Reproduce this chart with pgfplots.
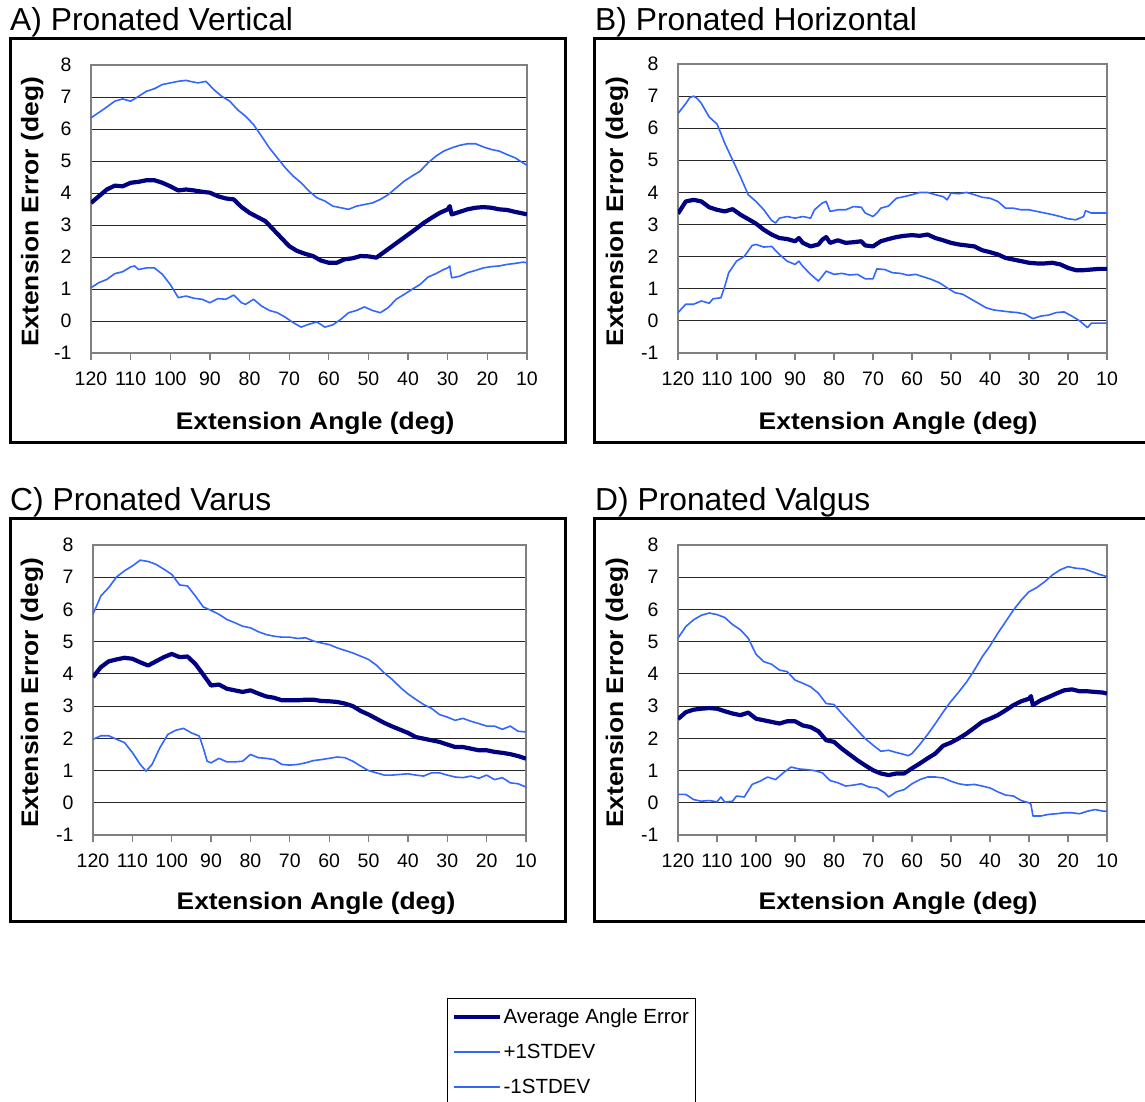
\documentclass[border=0pt]{standalone}
\usepackage{fontspec}
\setmainfont{Liberation Sans}
\newfontfamily\labfont{Liberation Sans}[FakeStretch=1.1]
\usepackage{pgfplots}
\pgfplotsset{compat=1.18}
\definecolor{avgc}{HTML}{000080}
\definecolor{sdc}{HTML}{3366FF}
\pgfplotsset{
 panel/.style={
  scale only axis,
  xmin=10, xmax=120, x dir=reverse, ymin=-1, ymax=8,
  xtick={10,20,...,120},
  ytick={0,1,...,7},
  extra y ticks={-1,8}, extra y tick style={grid=none},
  ymajorgrids, grid style={draw=black!85, line width=1pt},
  axis line style={draw=gray, line width=1.3pt},
  xtick pos=bottom, ytick pos=left, tick align=outside,
  ytick style={draw=none},
  xtick style={draw=gray, line width=1.2pt},
  major tick length=7pt,
  ticklabel style={font=\fontsize{19.5}{19.5}\selectfont},
  /pgf/number format/assume math mode=true,
  yticklabel style={xshift=-9pt},
  xticklabel style={yshift=-8pt},
  xlabel={Extension Angle (deg)},
  ylabel={Extension Error (deg)},
  label style={font=\labfont\bfseries\fontsize{24}{24}\selectfont},
  every axis plot/.append style={no markers},
 },
 avg/.style={draw=avgc, line width=4.2pt, line join=round},
 sd/.style={draw=sdc, line width=1.6pt, line join=round},
}
\begin{document}
\begin{tikzpicture}
% frames and titles
\draw[line width=3pt] (10.5pt,-38.5pt) rectangle (565.5pt,-442.5pt);
\draw[line width=3pt] (594.5pt,-38.5pt) rectangle (1165pt,-442.5pt);
\draw[line width=3pt] (10.5pt,-518.5pt) rectangle (565.5pt,-921.5pt);
\draw[line width=3pt] (594.5pt,-518.5pt) rectangle (1165pt,-921.5pt);
\node[anchor=base west, inner sep=0pt, font=\fontsize{31.8}{31.8}\selectfont] at (10pt,-30pt) {A) Pronated Vertical};
\node[anchor=base west, inner sep=0pt, font=\fontsize{31.8}{31.8}\selectfont] at (595pt,-30pt) {B) Pronated Horizontal};
\node[anchor=base west, inner sep=0pt, font=\fontsize{31.8}{31.8}\selectfont] at (10pt,-510pt) {C) Pronated Varus};
\node[anchor=base west, inner sep=0pt, font=\fontsize{31.8}{31.8}\selectfont] at (595pt,-510pt) {D) Pronated Valgus};

% ---------------- A
\begin{axis}[panel, at={(91pt,-353pt)}, anchor=south west, width=436pt, height=288pt,
  xlabel style={at={(axis description cs:0.514,-0.265)}, anchor=base},
  ylabel style={at={(axis description cs:-0.135,0.49)}, anchor=center}]
\addplot[sd] coordinates {(120,6.35)(117,6.6)(114,6.87)(112,6.94)(110,6.87)(108,7.02)(106,7.18)(104,7.26)(102,7.39)(100,7.44)(98,7.49)(96,7.52)(95,7.49)(93,7.44)(91,7.49)(89,7.23)(87,7.02)(85,6.87)(83,6.6)(81,6.4)(79,6.14)(77,5.78)(75,5.41)(73,5.1)(71,4.79)(69,4.53)(67,4.32)(65,4.06)(63,3.85)(61,3.75)(59,3.59)(57,3.54)(55,3.49)(53,3.59)(51,3.64)(49,3.69)(47,3.8)(45,3.95)(43,4.16)(41,4.37)(39,4.53)(37,4.68)(35,4.94)(33,5.15)(31,5.31)(29,5.41)(27,5.49)(25,5.54)(23,5.54)(21,5.44)(19,5.36)(17,5.31)(15,5.2)(13,5.1)(11,4.94)(10,4.87)};
\addplot[avg] coordinates {(120,3.69)(118,3.9)(116,4.11)(114,4.23)(112,4.21)(110,4.32)(108,4.35)(106,4.4)(104,4.4)(102,4.32)(100,4.21)(98,4.08)(96,4.11)(94,4.08)(92,4.04)(90,4.01)(88,3.9)(86,3.83)(84,3.8)(82,3.56)(80,3.38)(78,3.25)(76,3.12)(74,2.86)(72,2.6)(70,2.34)(68,2.19)(66,2.1)(64,2.03)(62,1.89)(60,1.82)(58,1.82)(56,1.93)(54,1.96)(52,2.03)(50,2.02)(48,1.98)(46,2.16)(44,2.34)(42,2.52)(40,2.7)(38,2.88)(36,3.07)(34,3.23)(32,3.38)(30,3.49)(29.5,3.59)(29,3.33)(27,3.41)(25,3.49)(23,3.54)(21,3.56)(19,3.54)(17,3.49)(15,3.47)(13,3.41)(11,3.36)(10,3.33)};
\addplot[sd] coordinates {(120,1.04)(118,1.2)(116,1.3)(114,1.48)(112,1.54)(110,1.69)(109,1.72)(108,1.61)(106,1.66)(104,1.66)(102,1.46)(100,1.14)(99,0.94)(98,0.73)(96,0.78)(94,0.71)(92,0.68)(90,0.57)(88,0.7)(86,0.68)(84,0.81)(82,0.57)(81,0.52)(79,0.68)(77,0.47)(75,0.33)(73,0.26)(71,0.12)(69,-0.05)(67,-0.19)(65,-0.1)(63,-0.03)(61,-0.19)(59,-0.12)(57,0.05)(55,0.26)(53,0.33)(51,0.44)(49,0.33)(47,0.26)(45,0.42)(43,0.68)(41,0.83)(39,0.99)(37,1.14)(35,1.37)(33,1.48)(31,1.61)(30,1.66)(29.5,1.72)(29,1.35)(27,1.4)(25,1.51)(23,1.58)(21,1.66)(19,1.7)(17,1.72)(15,1.77)(13,1.8)(11,1.84)(10,1.82)};
\end{axis}

% ---------------- B
\begin{axis}[panel, at={(678pt,-353pt)}, anchor=south west, width=429pt, height=289pt,
  xlabel style={at={(axis description cs:0.513,-0.265)}, anchor=base},
  ylabel style={at={(axis description cs:-0.142,0.49)}, anchor=center}]
\addplot[sd] coordinates {(120,6.46)(118,6.77)(117,6.95)(116,7.0)(115,6.92)(114,6.77)(113,6.56)(112,6.35)(110,6.13)(109,5.84)(108,5.53)(106,5.01)(104,4.49)(102,3.93)(100,3.72)(98,3.46)(96,3.13)(95,3.05)(94,3.2)(92,3.25)(90,3.2)(88,3.25)(86,3.2)(85,3.46)(83,3.67)(82,3.72)(81,3.41)(79,3.46)(77,3.46)(75,3.56)(73,3.54)(72,3.36)(70,3.25)(69,3.36)(68,3.51)(66,3.58)(64,3.82)(62,3.87)(60,3.93)(58,4.0)(56,4.0)(54,3.93)(52,3.87)(51,3.77)(50,3.98)(48,3.96)(46,4.0)(44,3.93)(42,3.85)(40,3.82)(38,3.72)(36,3.51)(34,3.51)(32,3.46)(30,3.46)(28,3.41)(26,3.36)(24,3.31)(22,3.25)(20,3.18)(18,3.15)(16,3.25)(15.5,3.43)(14,3.36)(12,3.36)(10,3.36)};
\addplot[avg] coordinates {(120,3.34)(118,3.72)(116,3.77)(114,3.72)(112,3.54)(110,3.46)(108,3.41)(106,3.48)(104,3.31)(102,3.17)(100,3.03)(98,2.84)(96,2.69)(94,2.58)(92,2.55)(90,2.48)(89,2.58)(88,2.43)(86,2.32)(84,2.38)(83,2.53)(82,2.61)(81,2.43)(79,2.51)(77,2.43)(75,2.45)(73,2.48)(72,2.35)(70,2.32)(68,2.48)(66,2.55)(64,2.61)(62,2.65)(60,2.67)(58,2.65)(56,2.69)(54,2.58)(52,2.51)(50,2.43)(48,2.38)(46,2.35)(44,2.32)(42,2.2)(40,2.14)(38,2.07)(36,1.96)(34,1.91)(32,1.86)(30,1.81)(28,1.79)(26,1.79)(24,1.81)(22,1.76)(20,1.65)(18,1.58)(16,1.58)(14,1.6)(12,1.62)(10,1.62)};
\addplot[sd] coordinates {(120,0.26)(118,0.52)(116,0.52)(114,0.62)(112,0.55)(111,0.69)(109,0.72)(108,1.08)(107,1.5)(105,1.86)(103,2.01)(101,2.35)(100,2.38)(98,2.3)(96,2.32)(94,2.07)(92,1.86)(90,1.76)(89,1.86)(88,1.7)(86,1.45)(84,1.24)(83,1.39)(82,1.55)(80,1.45)(78,1.48)(76,1.43)(74,1.45)(72,1.31)(70,1.31)(69,1.62)(67,1.6)(65,1.5)(63,1.48)(61,1.42)(59,1.45)(57,1.37)(55,1.29)(53,1.19)(51,1.03)(49,0.88)(47,0.83)(45,0.69)(43,0.55)(41,0.41)(39,0.34)(37,0.31)(35,0.28)(33,0.26)(31,0.21)(29,0.07)(27,0.15)(25,0.18)(23,0.26)(21,0.28)(19,0.15)(17,0.0)(15,-0.21)(14,-0.07)(12,-0.07)(10,-0.07)};
\end{axis}

% ---------------- C
\begin{axis}[panel, at={(93pt,-835pt)}, anchor=south west, width=433pt, height=290pt,
  xlabel style={at={(axis description cs:0.515,-0.256)}, anchor=base},
  ylabel style={at={(axis description cs:-0.141,0.49)}, anchor=center},
  legend style={at={(axis description cs:0.8176,-0.5621)}, anchor=north west, draw=black, line width=0.8pt, inner xsep=4pt, inner ysep=6pt, row sep=10pt, font=\fontsize{20.5}{20.5}\selectfont, nodes={inner sep=2pt, text height=17.5pt, text depth=3.5pt}},
  legend cell align=left,
  legend image code/.code={\draw[#1] (0pt,0pt) -- (46pt,0pt);}]
\addplot[avg] coordinates {(120,3.9)(118,4.21)(116,4.39)(114,4.45)(112,4.5)(110,4.47)(108,4.36)(106,4.26)(104,4.39)(102,4.52)(100,4.62)(98,4.52)(96,4.54)(94,4.31)(92,3.98)(90,3.64)(88,3.67)(86,3.54)(84,3.49)(82,3.44)(80,3.49)(78,3.39)(76,3.3)(74,3.26)(72,3.18)(70,3.18)(68,3.18)(66,3.2)(64,3.2)(62,3.16)(60,3.15)(58,3.13)(56,3.08)(54,3.0)(52,2.85)(50,2.74)(48,2.61)(46,2.48)(44,2.37)(42,2.27)(40,2.17)(38,2.04)(36,1.99)(34,1.94)(32,1.89)(30,1.81)(28,1.73)(26,1.73)(24,1.68)(22,1.63)(20,1.63)(18,1.58)(16,1.55)(14,1.51)(12,1.45)(10,1.37)};
\addlegendentry{Average Angle Error}
\addplot[sd] coordinates {(120,5.85)(118,6.42)(116,6.68)(114,7.01)(112,7.2)(110,7.35)(108,7.53)(106,7.49)(104,7.4)(102,7.25)(100,7.09)(98,6.76)(96,6.73)(94,6.42)(92,6.08)(90,5.97)(88,5.85)(86,5.69)(84,5.59)(82,5.48)(80,5.43)(78,5.31)(76,5.22)(74,5.17)(72,5.14)(70,5.14)(68,5.1)(66,5.12)(64,5.02)(62,4.96)(60,4.91)(58,4.81)(56,4.73)(54,4.65)(52,4.55)(50,4.45)(48,4.27)(46,4.03)(44,3.83)(42,3.59)(40,3.38)(38,3.21)(36,3.05)(34,2.93)(32,2.74)(30,2.66)(28,2.56)(26,2.62)(24,2.53)(22,2.46)(20,2.38)(18,2.38)(16,2.28)(14,2.38)(12,2.22)(10,2.2)};
\addlegendentry{+1STDEV}
\addplot[sd] coordinates {(120,1.97)(118,2.08)(116,2.08)(114,1.97)(112,1.87)(110,1.56)(108,1.19)(106.5,0.98)(105,1.19)(103,1.71)(101,2.12)(99,2.25)(97,2.31)(95,2.17)(93,2.07)(92,1.71)(91,1.29)(90,1.24)(88,1.38)(86,1.27)(84,1.27)(82,1.29)(80,1.5)(78,1.4)(76,1.38)(74,1.34)(72,1.19)(70,1.17)(68,1.19)(66,1.24)(64,1.31)(62,1.34)(60,1.38)(58,1.42)(56,1.4)(54,1.29)(52,1.14)(50,1.0)(48,0.93)(46,0.86)(44,0.86)(42,0.88)(40,0.9)(38,0.86)(36,0.83)(34,0.93)(32,0.93)(30,0.86)(28,0.8)(26,0.78)(24,0.83)(22,0.76)(20,0.86)(18,0.72)(16,0.78)(14,0.62)(12,0.59)(10,0.49)};
\addlegendentry{-1STDEV}
\end{axis}

% ---------------- D
\begin{axis}[panel, at={(678pt,-835pt)}, anchor=south west, width=429pt, height=290pt,
  xlabel style={at={(axis description cs:0.513,-0.256)}, anchor=base},
  ylabel style={at={(axis description cs:-0.142,0.49)}, anchor=center}]
\addplot[sd] coordinates {(120,5.11)(118,5.47)(116,5.68)(114,5.82)(112,5.89)(110,5.84)(108,5.75)(106,5.53)(104,5.37)(102,5.11)(100,4.61)(98,4.38)(96,4.3)(94,4.12)(92,4.07)(90,3.81)(88,3.71)(86,3.6)(84,3.4)(82,3.08)(80,3.05)(78,2.77)(76,2.51)(74,2.25)(72,1.99)(70,1.79)(68,1.6)(66,1.63)(64,1.56)(62,1.5)(61,1.46)(60,1.53)(58,1.81)(56,2.12)(54,2.46)(52,2.82)(50,3.15)(48,3.44)(46,3.75)(44,4.12)(42,4.53)(40,4.87)(38,5.26)(36,5.62)(34,5.98)(32,6.29)(30,6.55)(28,6.68)(26,6.86)(24,7.07)(22,7.23)(20,7.33)(18,7.28)(16,7.26)(14,7.18)(12,7.09)(10,7.02)};
\addplot[avg] coordinates {(120,2.6)(118,2.81)(116,2.89)(114,2.92)(112,2.94)(110,2.92)(108,2.84)(106,2.77)(104,2.72)(102,2.8)(100,2.61)(98,2.56)(96,2.51)(94,2.46)(92,2.53)(90,2.53)(88,2.4)(86,2.35)(84,2.22)(82,1.94)(80,1.89)(78,1.68)(76,1.5)(74,1.32)(72,1.16)(70,1.01)(68,0.91)(66,0.86)(64,0.91)(62,0.91)(60,1.07)(58,1.22)(56,1.38)(54,1.53)(52,1.77)(50,1.87)(48,2.0)(46,2.15)(44,2.33)(42,2.51)(40,2.61)(38,2.72)(36,2.87)(34,3.03)(32,3.15)(30,3.23)(29.5,3.31)(29,3.03)(27,3.18)(25,3.28)(23,3.39)(21,3.49)(19,3.52)(17,3.46)(15,3.46)(13,3.44)(11,3.42)(10,3.39)};
\addplot[sd] coordinates {(120,0.26)(118,0.26)(116,0.1)(114,0.05)(112,0.07)(110,0.03)(109,0.18)(108,0.02)(106,0.05)(105,0.21)(103,0.18)(101,0.57)(99,0.67)(97,0.8)(95,0.72)(93,0.93)(91,1.11)(89,1.05)(87,1.03)(85,1.0)(83,0.93)(81,0.69)(79,0.62)(77,0.52)(75,0.55)(73,0.59)(71,0.49)(69,0.46)(67,0.31)(66,0.18)(64,0.34)(62,0.41)(60,0.59)(58,0.72)(56,0.8)(54,0.8)(52,0.77)(50,0.67)(48,0.59)(46,0.55)(44,0.57)(42,0.52)(40,0.46)(38,0.34)(36,0.24)(34,0.21)(32,0.07)(30,0.0)(29.5,-0.05)(29,-0.41)(27,-0.41)(25,-0.36)(23,-0.34)(21,-0.31)(19,-0.31)(17,-0.34)(15,-0.26)(13,-0.21)(11,-0.26)(10,-0.26)};
\end{axis}

\pgfresetboundingbox
\useasboundingbox (0pt,0pt) rectangle (1145pt,-1101pt);
\end{tikzpicture}
\end{document}
